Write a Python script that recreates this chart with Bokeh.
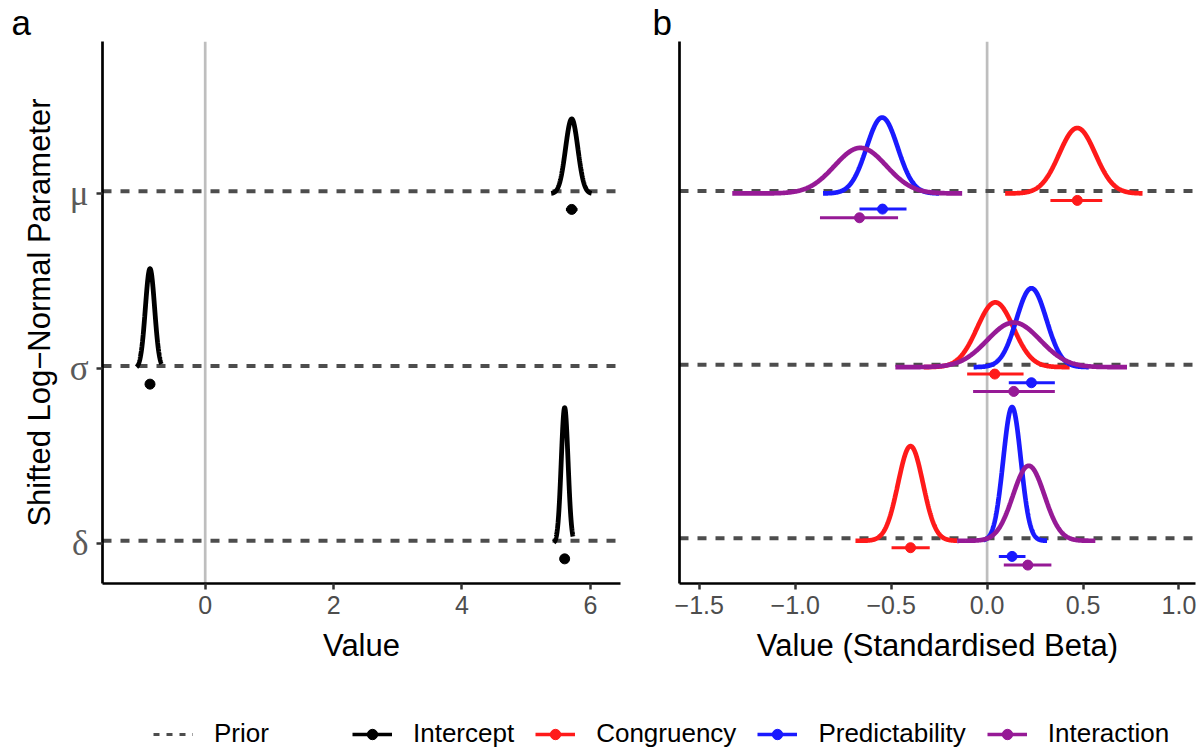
import numpy as np
from bokeh.plotting import figure
from bokeh.models import (FixedTicker, Span, Legend, LegendItem, ColumnDataSource)
from bokeh.layouts import row, column
from bokeh.embed import file_html
from bokeh.resources import INLINE

# ---- data -------------------------------------------------------------
params = ["μ", "σ", "δ"]
param_row = [3, 2, 1]

# intercept posteriors (panel a)
icpt_mean = [5.71, -0.86, 5.60]
icpt_sd = [0.096, 0.072, 0.053]
icpt_lo = [5.39, -1.07, 5.43]
icpt_hi = [6.02, -0.68, 5.73]
icpt_est = [5.71, -0.86, 5.60]
icpt_ci_lo = [5.62, -0.90, 5.57]
icpt_ci_hi = [5.80, -0.82, 5.63]

# standardised effects (panel b)
cong_mean = [0.47, 0.043, -0.399]
cong_sd = [0.094, 0.095, 0.065]
cong_lo = [0.094, -0.33, -0.686]
cong_hi = [0.81, 0.43, -0.156]
cong_est = [0.47, 0.04, -0.399]
cong_ci_lo = [0.33, -0.104, -0.498]
cong_ci_hi = [0.60, 0.19, -0.299]

pred_mean = [-0.547, 0.231, 0.130]
pred_sd = [0.081, 0.078, 0.046]
pred_lo = [-0.855, -0.07, -0.02]
pred_hi = [-0.25, 0.53, 0.3125]
pred_est = [-0.545, 0.231, 0.130]
pred_ci_lo = [-0.665, 0.113, 0.061]
pred_ci_hi = [-0.42, 0.353, 0.20]

int_mean = [-0.66, 0.139, 0.217]
int_sd = [0.135, 0.138, 0.082]
int_lo = [-1.328, -0.478, -0.156]
int_hi = [-0.13, 0.729, 0.564]
int_est = [-0.665, 0.139, 0.212]
int_ci_lo = [-0.871, -0.073, 0.087]
int_ci_hi = [-0.464, 0.353, 0.335]

prior_height = 0.014          # flat prior density, in row units
x_ticks_a = [0, 2, 4, 6]
x_ticks_b = [-1.5, -1.0, -0.5, 0.0, 0.5, 1.0]
x_labels_b = ["\u22121.5", "\u22121.0", "\u22120.5", "0.0", "0.5", "1.0"]

# ---- styling ----------------------------------------------------------
SANS = "Liberation Sans"
SERIF = "Liberation Serif"
GREY_TXT = "#4D4D4D"
PRIOR_COL = "#4D4D4D"
RIDGE_SCALE_A = 0.103
RIDGE_SCALE_B = 0.0888
DODGE = [-0.04, -0.09, -0.14]

effects = [
    ("Congruency", "#FF1A1A", cong_mean, cong_sd, cong_lo, cong_hi, cong_est, cong_ci_lo, cong_ci_hi),
    ("Predictability", "#1A1AFF", pred_mean, pred_sd, pred_lo, pred_hi, pred_est, pred_ci_lo, pred_ci_hi),
    ("Interaction", "#961A96", int_mean, int_sd, int_lo, int_hi, int_est, int_ci_lo, int_ci_hi),
]


def density(mean, sd, lo, hi, base, scale):
    xs = np.linspace(lo, hi, 300)
    pdf = np.exp(-0.5 * ((xs - mean) / sd) ** 2) / (sd * np.sqrt(2 * np.pi))
    return xs, base + scale * pdf


def make_panel(width, x_range, y_range, bl, br, ticks, tick_labels, xlabel,
               show_y, tag, tag_offset):
    p = figure(width=width, height=690, x_range=x_range, y_range=y_range,
               output_backend="svg", toolbar_location=None,
               min_border_left=bl, min_border_right=br,
               min_border_top=40, min_border_bottom=107)
    p.outline_line_color = None
    p.grid.visible = False
    p.background_fill_color = "white"
    p.border_fill_color = "white"

    p.title.text = tag
    p.title.text_font = SANS
    p.title.text_font_size = "35px"
    p.title.text_font_style = "normal"
    p.title.text_color = "black"
    p.title.align = "left"
    p.title.offset = tag_offset
    p.title.standoff = 0

    xa = p.xaxis[0]
    xa.ticker = FixedTicker(ticks=ticks)
    xa.major_label_overrides = {t: l for t, l in zip(ticks, tick_labels)}
    xa.axis_label = xlabel
    xa.axis_label_text_font = SANS
    xa.axis_label_text_font_size = "31px"
    xa.axis_label_text_font_style = "normal"
    xa.axis_label_text_color = "black"
    xa.axis_label_standoff = 11
    xa.major_label_text_font = SANS
    xa.major_label_text_font_size = "25px"
    xa.major_label_text_color = GREY_TXT
    xa.major_label_standoff = 6
    xa.axis_line_width = 2.7
    xa.axis_line_color = "black"
    xa.major_tick_line_width = 2.5
    xa.major_tick_line_color = "#333333"
    xa.major_tick_out = 6
    xa.major_tick_in = 0
    xa.minor_tick_line_color = None

    ya = p.yaxis[0]
    ya.ticker = FixedTicker(ticks=param_row)
    ya.axis_line_width = 2.7
    ya.axis_line_color = "black"
    ya.minor_tick_line_color = None
    if show_y:
        ya.major_label_overrides = {r: s for r, s in zip(param_row, params)}
        ya.major_label_text_font = SERIF
        ya.major_label_text_font_size = "35px"
        ya.major_label_text_color = "#5A5A5A"
        ya.major_label_standoff = 8
        ya.major_tick_line_width = 2.5
        ya.major_tick_line_color = "#333333"
        ya.major_tick_out = 6
        ya.major_tick_in = 0
        ya.axis_label = "Shifted Log\u2212Normal Parameter"
        ya.axis_label_text_font = SANS
        ya.axis_label_text_font_size = "31px"
        ya.axis_label_text_font_style = "normal"
        ya.axis_label_text_color = "black"
        ya.axis_label_standoff = 10
    else:
        ya.major_label_overrides = {r: "" for r in param_row}
        ya.major_label_text_font_size = "0px"
        ya.major_tick_line_color = None

    p.add_layout(Span(location=0, dimension="height", line_color="#BEBEBE",
                      line_width=2.7, level="underlay"))
    # flat priors
    for r in param_row:
        p.line([x_range[0], x_range[1]], [r + prior_height, r + prior_height],
               line_color=PRIOR_COL, line_width=4, line_dash="9 9")
    return p


# ---- panel a ----------------------------------------------------------
pa = make_panel(640, (-1.6, 6.47), (0.769, 3.871), 102, 20,
                x_ticks_a, [str(t) for t in x_ticks_a], "Value", True, "a", -91)
for i, r in enumerate(param_row):
    xs, ys = density(icpt_mean[i], icpt_sd[i], icpt_lo[i], icpt_hi[i], r, RIDGE_SCALE_A)
    pa.line(xs, ys, line_color="black", line_width=4.8)
for i, r in enumerate(param_row):
    yy = r + DODGE[1]
    pa.segment(x0=[icpt_ci_lo[i]], y0=[yy], x1=[icpt_ci_hi[i]], y1=[yy],
               line_color="black", line_width=3)
    pa.scatter([icpt_est[i]], [yy], size=10, color="black")

# ---- panel b ----------------------------------------------------------
pb = make_panel(560, (-1.603, 1.086), (0.754, 3.875), 39, 5,
                x_ticks_b, x_labels_b, "Value (Standardised Beta)", False, "b", -27)
for name, col, mu, sd, lo, hi, est, cl, ch in effects:
    for i, r in enumerate(param_row):
        xs, ys = density(mu[i], sd[i], lo[i], hi[i], r, RIDGE_SCALE_B)
        pb.line(xs, ys, line_color=col, line_width=4.7)
for k, (name, col, mu, sd, lo, hi, est, cl, ch) in enumerate(effects):
    for i, r in enumerate(param_row):
        yy = r + DODGE[k]
        pb.segment(x0=[cl[i]], y0=[yy], x1=[ch[i]], y1=[yy],
                   line_color=col, line_width=3)
        pb.scatter([est[i]], [yy], size=10, color=col)

# ---- legend strip -----------------------------------------------------
leg = figure(width=1200, height=61, x_range=(0, 1), y_range=(0, 1),
             output_backend="svg", toolbar_location=None,
             x_axis_location=None, y_axis_location=None, min_border=0)
leg.outline_line_color = None
leg.grid.visible = False


def offscreen():
    # keys for legend swatches; the points sit outside the visible range
    return ColumnDataSource(data=dict(x=[-5, -4], y=[-5, -4]))


prior_r = leg.line("x", "y", source=offscreen(), line_color=PRIOR_COL, line_width=3,
                   line_dash="6 7")
items2 = []
for name, col in [("Intercept", "black")] + [(e[0], e[1]) for e in effects]:
    lr = leg.line("x", "y", source=offscreen(), line_color=col, line_width=3.5)
    sr = leg.scatter("x", "y", source=offscreen(), size=10, color=col)
    items2.append(LegendItem(label=name, renderers=[lr, sr]))


def style_legend(lg):
    lg.orientation = "horizontal"
    lg.glyph_width = 40
    lg.glyph_height = 26
    lg.label_height = 26
    lg.label_standoff = 21
    lg.spacing = 21
    lg.padding = 0
    lg.margin = 0
    lg.border_line_color = None
    lg.background_fill_alpha = 0
    lg.label_text_font = SANS
    lg.label_text_font_size = "26px"
    lg.label_text_color = "black"


lg1 = Legend(items=[LegendItem(label="Prior", renderers=[prior_r])], location=(153, 2))
lg2 = Legend(items=items2, location=(352, 2))
style_legend(lg1)
style_legend(lg2)
leg.add_layout(lg1)
leg.add_layout(lg2)

layout = column(row(pa, pb), leg)
open("out.html", "w").write(file_html(layout, INLINE))
